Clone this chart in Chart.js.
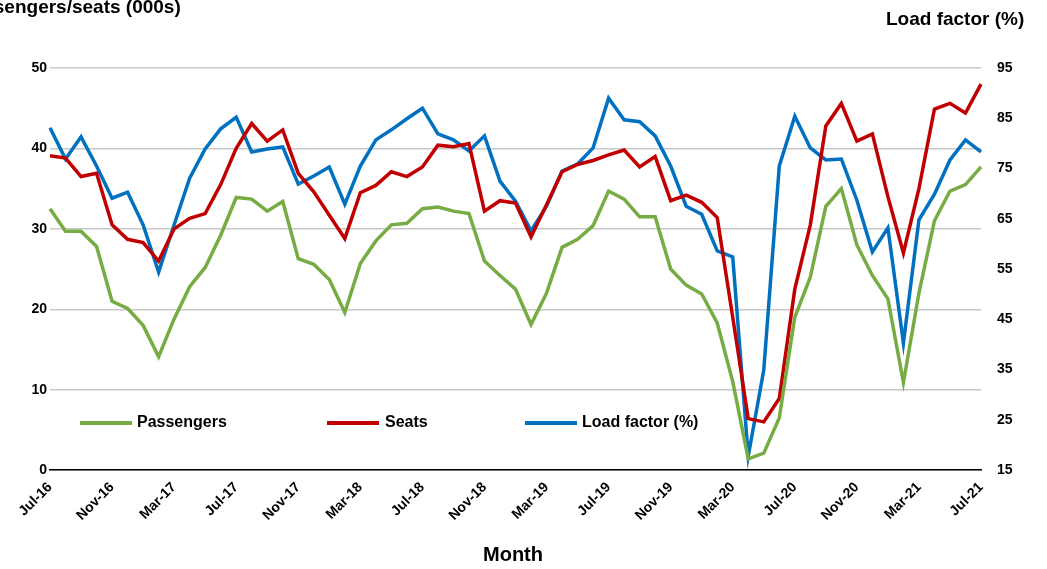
<!DOCTYPE html>
<html><head><meta charset="utf-8">
<script src="https://cdn.jsdelivr.net/npm/chart.js@4"></script>
<style>
body{margin:0;background:#fff;font-family:Arial,"Liberation Sans",sans-serif;}
#wrap{position:relative;width:1047px;height:569px;overflow:hidden;}
.t{position:absolute;font-weight:bold;color:#000;white-space:nowrap;}
.lg{position:absolute;height:4px;width:52px;}
</style></head><body>
<div id="wrap">
<canvas id="c" width="1047" height="569"></canvas>
<div class="t" style="left:-40px;top:-4px;font-size:19px;">Passengers/seats (000s)</div>
<div class="t" style="left:886px;top:8px;font-size:19px;">Load factor (%)</div>
<div class="t" style="left:483px;top:543px;font-size:20px;">Month</div>
<div class="lg" style="left:80px;top:421px;background:#77ac45"></div>
<div class="t" style="left:137px;top:413px;font-size:16px;">Passengers</div>
<div class="lg" style="left:327px;top:421px;background:#c00000"></div>
<div class="t" style="left:385px;top:413px;font-size:16px;">Seats</div>
<div class="lg" style="left:525px;top:421px;background:#0070c0"></div>
<div class="t" style="left:582px;top:413px;font-size:16px;">Load factor (%)</div>
</div>
<script>
const monthNames=["Jan","Feb","Mar","Apr","May","Jun","Jul","Aug","Sep","Oct","Nov","Dec"];
const months=[];
for(let i=0;i<61;i++){const m=(6+i)%12,y=16+Math.floor((6+i)/12);months.push(monthNames[m]+"-"+y);}
const passengers=[32.5,29.7,29.7,27.8,21,20.1,18,14.1,18.8,22.8,25.2,29.2,33.9,33.7,32.2,33.4,26.3,25.6,23.7,19.6,25.7,28.5,30.5,30.7,32.5,32.7,32.2,31.9,26,24.2,22.5,18.1,22,27.7,28.7,30.4,34.7,33.7,31.5,31.5,25,23,21.9,18.3,11,1.4,2.1,6.5,19,24,32.8,35,28,24.2,21.3,10.9,22,31,34.7,35.5,37.7];
const seats=[39.1,38.8,36.5,36.9,30.5,28.7,28.3,26,30,31.3,31.9,35.5,40,43.1,40.9,42.3,36.9,34.6,31.7,28.8,34.5,35.4,37.1,36.5,37.7,40.4,40.2,40.6,32.2,33.5,33.2,29,33,37.1,38,38.5,39.2,39.8,37.7,39,33.5,34.2,33.3,31.4,19,6.4,6,8.9,22.5,30.5,42.8,45.6,40.9,41.8,34,27,35,44.9,45.6,44.4,48];
const loadFactor=[83.1,76.9,81.3,75.5,69.1,70.3,63.8,54.4,63.8,73.1,78.9,82.9,85.2,78.3,78.9,79.3,71.9,73.5,75.3,67.9,75.5,80.7,82.7,84.9,87,81.9,80.7,78.5,81.5,72.5,68.5,62.6,67.5,74.5,75.9,79.1,89,84.7,84.3,81.5,75.5,67.5,65.9,58.6,57.4,17.8,34.9,75.5,85.4,79.1,76.7,76.9,68.7,58.4,63.2,40.3,64.8,69.9,76.7,80.7,78.3];
const tickFont={family:"Arial",size:14,weight:"bold"};
new Chart(document.getElementById('c'),{
type:'line',
data:{labels:months,datasets:[
{data:passengers,borderColor:'#77ac45',yAxisID:'y'},
{data:seats,borderColor:'#c00000',yAxisID:'y'},
{data:loadFactor,borderColor:'#0070c0',yAxisID:'y1'}]},
options:{responsive:false,animation:false,
elements:{point:{radius:0},line:{borderWidth:3.5,tension:0}},
layout:{padding:{top:68,left:0,right:0,bottom:42}},
plugins:{legend:{display:false},tooltip:{enabled:false}},
scales:{
x:{offset:false,grid:{display:false,drawTicks:true,tickLength:6,color:'#000'},border:{color:'#000',width:1.5},
ticks:{color:'#000',font:tickFont,autoSkip:false,maxRotation:45,minRotation:45,
callback:(v,i)=>i%4===0?months[i]:''}},
y:{position:'left',min:0,max:50,afterFit:s=>{s.width=50},ticks:{stepSize:10,color:'#000',font:tickFont},
grid:{color:'#c8c8c8',lineWidth:1.5,drawTicks:false},border:{display:false}},
y1:{position:'right',min:15,max:95,afterFit:s=>{s.width=66},ticks:{stepSize:10,color:'#000',font:tickFont,padding:8},
grid:{display:false},border:{display:false}}
}}});
</script></body></html>
